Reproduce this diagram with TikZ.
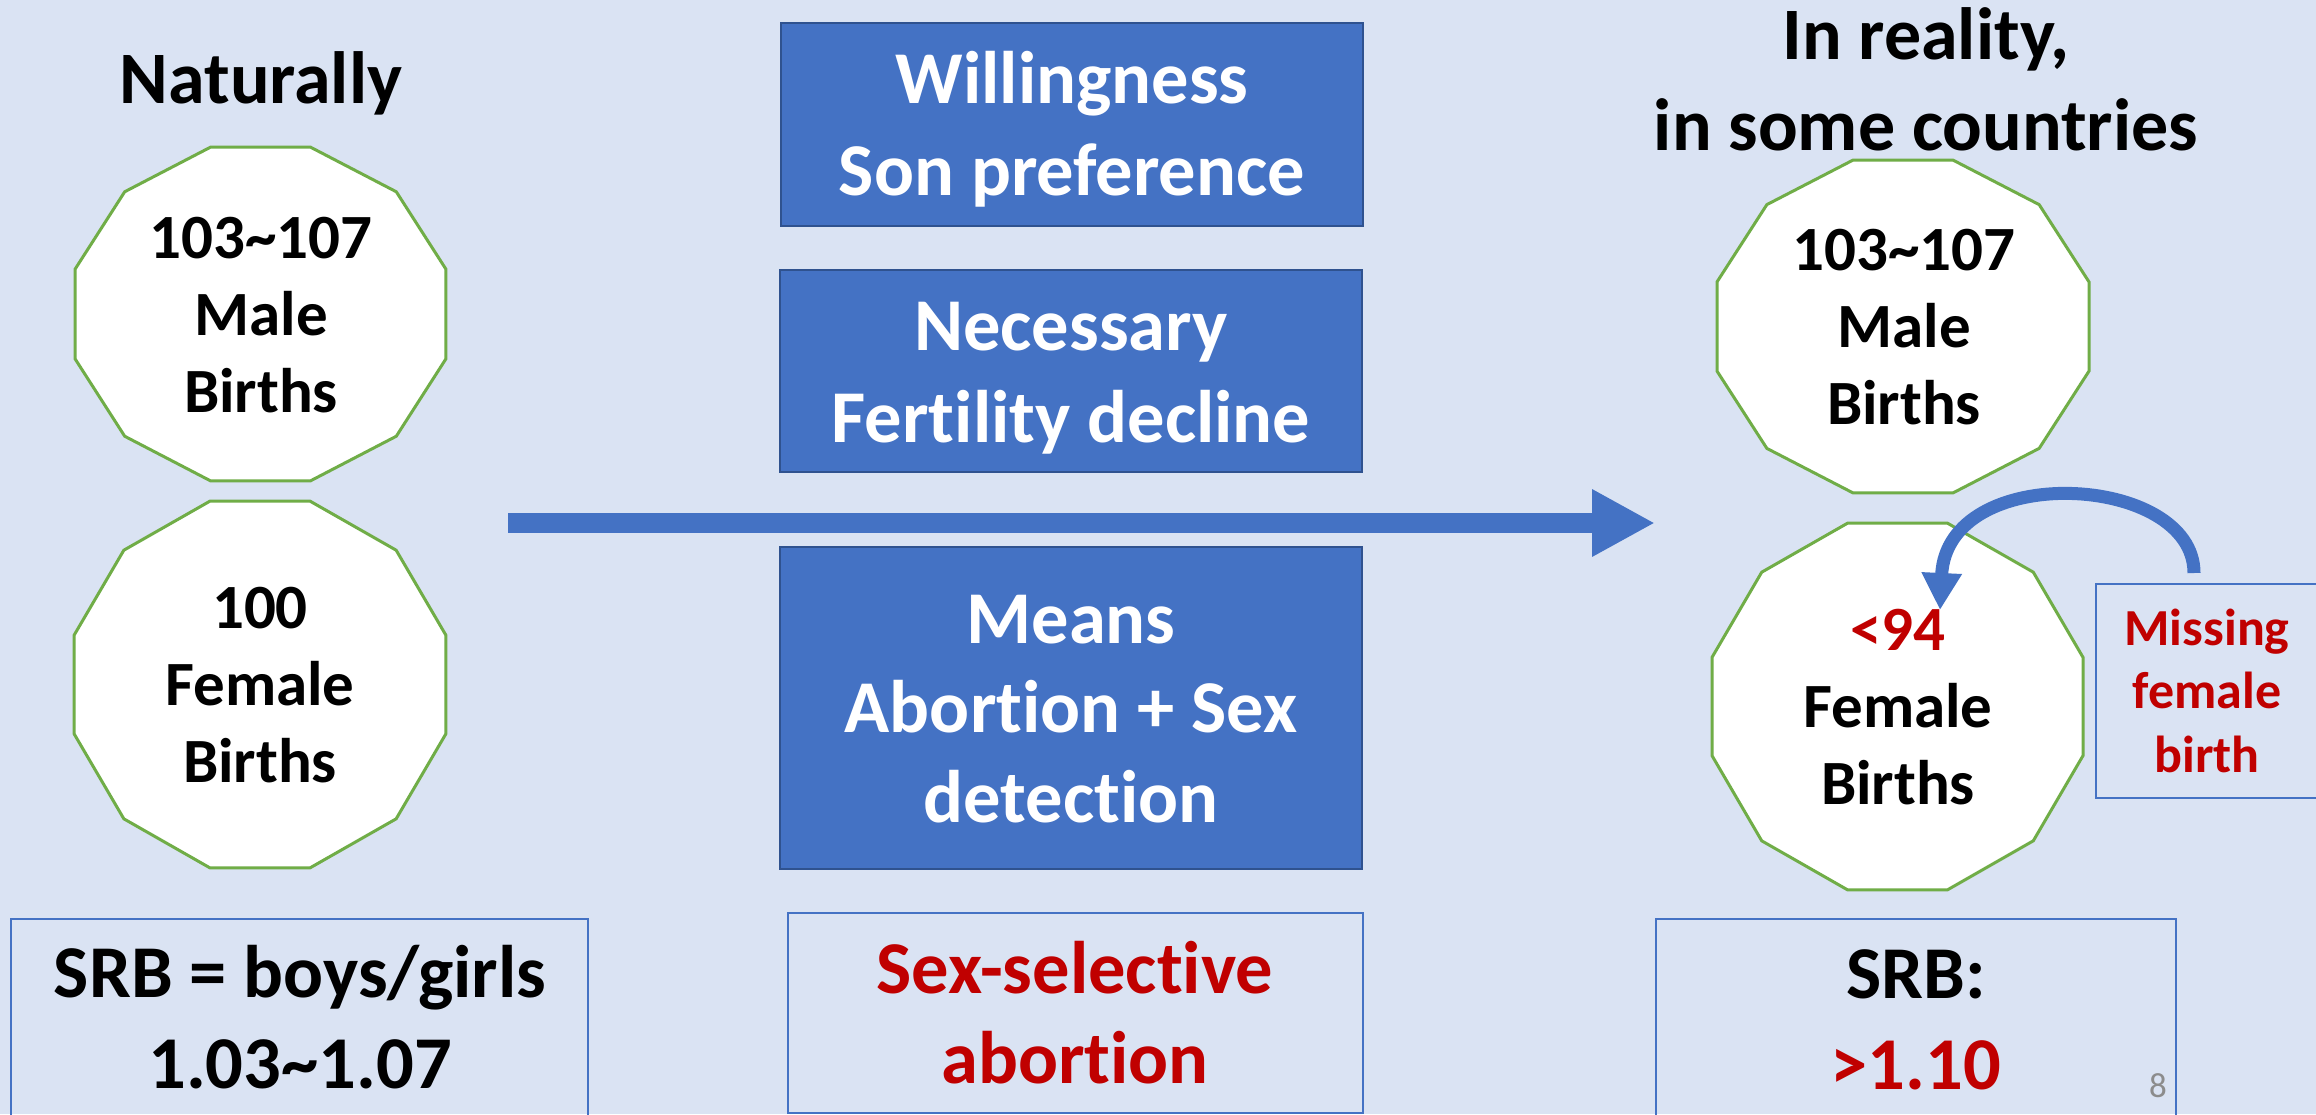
\documentclass[tikz,border=0pt]{standalone}
\usepackage{fontspec}
\setmainfont{Carlito}[Ligatures=CommonOff]
\usetikzlibrary{arrows.meta}
\definecolor{bg}{HTML}{DAE3F3}
\definecolor{accblue}{HTML}{4472C4}
\definecolor{darkblue}{HTML}{2F528F}
\definecolor{grn}{HTML}{70AD47}
\definecolor{srbred}{HTML}{C00000}
\definecolor{pggray}{HTML}{8C8C8C}
\newcommand\mlines[1]{\begin{tabular}[t]{@{}c@{}}#1\end{tabular}}
\newcommand\dodeca[4]{\draw[dodec] plot[samples at={15,45,...,345}, variable=\t] ({#1+#3*cos(\t)/cos(15)},{#2+#4*sin(\t)/cos(15)}) -- cycle;}
\begin{document}
\begin{tikzpicture}[x=1pt,y=-1pt,
  txt/.style={inner sep=0pt, anchor=base},
  dodec/.style={draw=grn, fill=white, line width=3pt, line join=miter},
  bluebox/.style={draw=darkblue, fill=accblue, line width=2pt, inner sep=0pt},
  outbox/.style={draw=accblue, line width=2.5pt, inner sep=0pt},
  fdod/.style={font=\fontsize{63}{77}\selectfont\bfseries},
  fbig/.style={font=\fontsize{74.5}{91}\selectfont\bfseries},
  fbox/.style={font=\fontsize{74.5}{92}\selectfont\bfseries},
  bigarrow/.style={draw=accblue, line width=20pt, -{Triangle[length=63pt,width=63pt]}},
  curvarrow/.style={draw=accblue, line width=13pt, -{Triangle[length=37pt,width=38pt]}},
 ]
\fill[bg] (0,0) rectangle (2316,1114);
\useasboundingbox (0,0) rectangle (2316,1114);

% titles
\node[txt, font=\fontsize{74}{88}\selectfont\bfseries] (nat) at (261,103) {Naturally};
\node[txt, font=\fontsize{74}{91}\selectfont\bfseries] (real) at (1926,59) {\mlines{In reality,\\in some countries}};

% middle blue boxes
\node[bluebox, minimum width=582pt, minimum height=203pt] (b1) at (1072,124.5) {};
\node[bluebox, minimum width=582pt, minimum height=202pt] (b2) at (1071,371) {};
\node[bluebox, minimum width=582pt, minimum height=322pt] (b3) at (1071,708) {};
\node[txt, fbox, text=white] (t1) at (1072,103) {\mlines{Willingness\\Son preference}};
\node[txt, fbox, text=white] (t2) at (1071,350) {\mlines{Necessary\\Fertility decline}};
\node[txt, font=\fontsize{74.5}{89.5}\selectfont\bfseries, text=white] (t3) at (1071,643) {\mlines{Means\\Abortion + Sex\\detection}};

% main arrow
\coordinate (as) at (508,523);
\coordinate (ae) at (1655,523);
\draw[bigarrow] (as) -- (ae);

% dodecagons
\dodeca{260.5}{314}{185.5}{167}
\dodeca{260}{684.5}{186}{183.5}
\dodeca{1903}{326.5}{186}{166.5}
\dodeca{1897.5}{706.5}{185.5}{183.5}
\node[txt, fdod] (lmale) at (261,258) {\mlines{103\textasciitilde107\\Male\\Births}};
\node[txt, fdod] (lfem) at (260,628) {\mlines{100\\Female\\Births}};
\node[txt, fdod] (rmale) at (1904,270) {\mlines{103\textasciitilde107\\Male\\Births}};
\node[txt, fdod] (rfem) at (1898,650) {\mlines{\textcolor{srbred}{<94}\\Female\\Births}};

% missing box and curved arrow
\node[outbox, minimum width=222pt, minimum height=214pt] (miss) at (2207,691) {};
\node[txt, font=\fontsize{52}{63.5}\selectfont\bfseries, text=srbred] (misst) at (2207,645) {\mlines{Missing\\female\\birth}};
\coordinate (cs) at (2194,573);
\coordinate (ce) at (1940,610);
\draw[curvarrow] (cs) .. controls +(0,-100) and +(7,-150) .. (ce);

% bottom boxes
\node[outbox, minimum width=577pt, minimum height=206pt] (bl) at (299.5,1022) {};
\node[outbox, minimum width=575pt, minimum height=200pt] (bm) at (1075.5,1013) {};
\node[outbox, minimum width=520pt, minimum height=206pt] (br) at (1916,1022) {};
\node[txt, fbig] (srb1) at (300,997) {\mlines{SRB = boys/girls\\1.03\textasciitilde1.07}};
\node[txt, font=\fontsize{74.5}{90}\selectfont\bfseries, text=srbred] (ssa) at (1075,993) {\mlines{Sex-selective\\abortion}};
\node[txt, fbig] (srb2) at (1916,998) {\mlines{SRB:\\\textcolor{srbred}{>1.10}}};

% page number
\node[txt, font=\fontsize{35}{42}\selectfont, text=pggray] (pg) at (2158,1097) {8};
\end{tikzpicture}
\end{document}
